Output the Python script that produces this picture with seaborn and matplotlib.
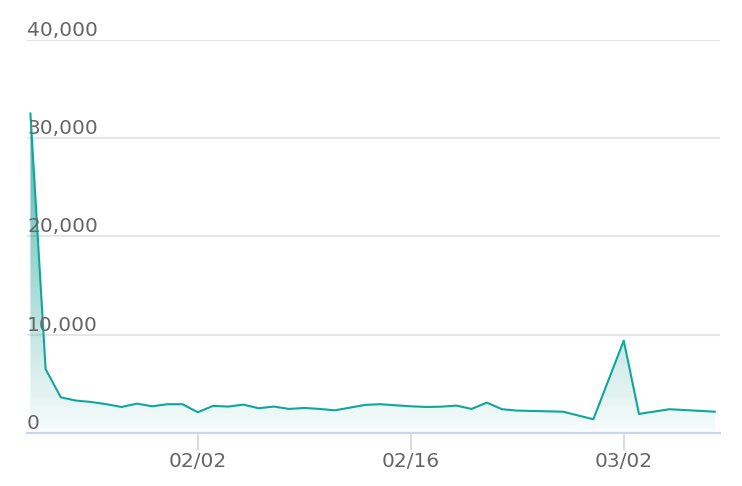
import matplotlib
matplotlib.use("Agg")
import matplotlib.pyplot as plt
import matplotlib.dates as mdates
import numpy as np
import pandas as pd
import seaborn as sns

# ---- data ----
year = 2021
dates = ["01/22", "01/23", "01/24", "01/25", "01/26", "01/27", "01/28", "01/29",
         "01/30", "01/31", "02/01", "02/02", "02/03", "02/04", "02/05", "02/06",
         "02/07", "02/08", "02/09", "02/10", "02/11", "02/12", "02/13", "02/14",
         "02/15", "02/16", "02/17", "02/18", "02/19", "02/20", "02/21", "02/22",
         "02/23", "02/26", "02/28", "03/02", "03/03", "03/05", "03/08"]
values = [32550, 6500, 3630, 3300, 3160, 2930, 2650, 2990,
          2720, 2930, 2930, 2110, 2760, 2690, 2890, 2520,
          2690, 2450, 2550, 2450, 2310, 2580, 2860, 2930,
          2820, 2720, 2650, 2680, 2790, 2450, 3090, 2420,
          2280, 2170, 1400, 9400, 1940, 2420, 2170]
x_ticks = ["02/02", "02/16", "03/02"]
y_ticks = [0, 10000, 20000, 30000, 40000]

line_color = "#0ea79c"
fill_color = "#1a9e94"
text_color = "#666666"

df = pd.DataFrame({
    "date": pd.to_datetime([f"{year}/{d}" for d in dates], format="%Y/%m/%d"),
    "value": values,
})

sns.set_style("white")
plt.rcParams["font.family"] = ["DejaVu Sans"]

W, H = 742, 486
fig = plt.figure(figsize=(W / 100, H / 100), dpi=100)
ax = fig.add_axes([27 / W, (H - 433) / H, (720 - 27) / W, (433 - 40) / H])

sns.lineplot(data=df, x="date", y="value", ax=ax, color=line_color,
             linewidth=1.5, sort=False, estimator=None, zorder=3)

x0 = mdates.date2num(pd.Timestamp(f"{year}-01-22"))
px_per_day = 213 / 14
xmin = x0 - (30.4 - 27) / px_per_day
xmax = x0 + (720 - 30.4) / px_per_day
xnum = mdates.date2num(df["date"])

# gradient fill under the line
poly = ax.fill_between(xnum, df["value"].values, 0, color="none", linewidth=0)
ymax_data = max(values)
n = 256
alphas = np.linspace(0.03, 0.78, n)
rgb = matplotlib.colors.to_rgb(fill_color)
grad = np.zeros((n, 1, 4))
grad[:, 0, 0] = rgb[0]
grad[:, 0, 1] = rgb[1]
grad[:, 0, 2] = rgb[2]
grad[:, 0, 3] = alphas
im = ax.imshow(grad, aspect="auto", origin="lower",
               extent=[xmin, xmax, 0, ymax_data], zorder=1)
im.set_clip_path(poly.get_paths()[0], transform=ax.transData)

ax.set_xlim(xmin, xmax)
ax.set_ylim(0, 40000)

# grid
for v in y_ticks[1:]:
    ax.axhline(v, color="#e6e6e6", linewidth=1.5, zorder=0)
ax.set_yticks([])
for v in y_ticks:
    ax.text(0, v + 420, f"{v:,}", transform=ax.get_yaxis_transform(),
            ha="left", va="baseline", fontsize=14.5, color=text_color, zorder=5)

tick_pos = [mdates.date2num(pd.Timestamp(f"{year}/{t}")) for t in x_ticks]
ax.set_xticks(tick_pos)
ax.set_xticklabels(x_ticks)
ax.tick_params(axis="x", direction="out", length=12, width=1.2,
               color="#ccd6eb", labelcolor=text_color, labelsize=14.5, pad=1.5,
               bottom=True)
ax.set_xlabel("")
ax.set_ylabel("")

for s in ["top", "right", "left"]:
    ax.spines[s].set_visible(False)
ax.spines["bottom"].set_color("#ccd6eb")
ax.spines["bottom"].set_linewidth(1.5)

fig.savefig("out.png", dpi=100)
